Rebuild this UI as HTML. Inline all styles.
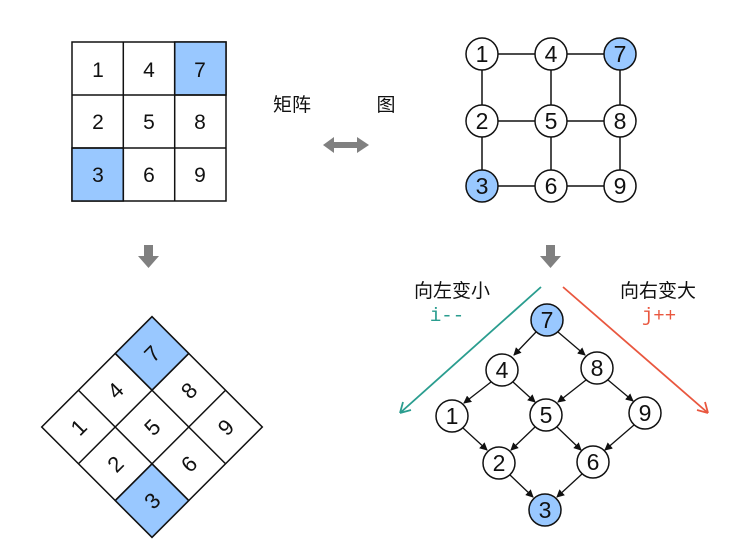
<!DOCTYPE html>
<html><head><meta charset="utf-8"><style>
body{margin:0;background:#fff}
svg text{font-family:"Liberation Sans","Noto Sans CJK SC",sans-serif;fill:#111}
</style></head><body>
<svg width="730" height="552" viewBox="0 0 730 552" xmlns="http://www.w3.org/2000/svg">
<defs>
<marker id="ab" markerWidth="8" markerHeight="8" refX="7" refY="4" orient="auto" markerUnits="userSpaceOnUse"><path d="M0,0 L8,4 L0,8 z" fill="#111"/></marker>
</defs>
<g stroke="#111" stroke-width="1.5">
<rect x="72" y="42" width="154" height="159" fill="#fff"/>
<rect x="174.7" y="42" width="51.3" height="53" fill="#99c8ff"/>
<rect x="72" y="148" width="51.3" height="53" fill="#99c8ff"/>
<line x1="123.3" y1="42" x2="123.3" y2="201"/><line x1="174.7" y1="42" x2="174.7" y2="201"/>
<line x1="72" y1="95" x2="226" y2="95"/><line x1="72" y1="148" x2="226" y2="148"/>
</g>
<g font-size="21" text-anchor="middle">
<text x="98" y="77">1</text><text x="149" y="77">4</text><text x="200" y="77">7</text>
<text x="98" y="129">2</text><text x="149" y="129">5</text><text x="200" y="129">8</text>
<text x="98" y="182">3</text><text x="149" y="182">6</text><text x="200" y="182">9</text>
</g>
<text x="292" y="111" font-size="19" text-anchor="middle">矩阵</text>
<text x="386" y="111" font-size="19" text-anchor="middle">图</text>
<path d="M323,145 L334,137 L334,142 L357,142 L357,137 L369,145 L357,153 L357,148 L334,148 L334,153 Z" fill="#808080"/>
<path d="M144,245 L153,245 L153,256 L159,256 L148.5,268 L138,256 L144,256 Z" fill="#808080"/>
<path d="M546,245 L555,245 L555,256 L561,256 L550.5,268 L540,256 L546,256 Z" fill="#808080"/>
<g stroke="#111" stroke-width="1.5">
<line x1="482" y1="54" x2="620" y2="54"/><line x1="482" y1="121" x2="620" y2="121"/><line x1="482" y1="186" x2="620" y2="186"/>
<line x1="482" y1="54" x2="482" y2="186"/><line x1="551" y1="54" x2="551" y2="186"/><line x1="620" y1="54" x2="620" y2="186"/>
</g>
<g stroke="#111" stroke-width="1.5" fill="#fff">
<circle cx="482" cy="54" r="16"/><circle cx="551" cy="54" r="16"/><circle cx="620" cy="54" r="16" fill="#99c8ff"/>
<circle cx="482" cy="121" r="16"/><circle cx="551" cy="121" r="16"/><circle cx="620" cy="121" r="16"/>
<circle cx="482" cy="186" r="16" fill="#99c8ff"/><circle cx="551" cy="186" r="16"/><circle cx="620" cy="186" r="16"/>
</g>
<g font-size="23" text-anchor="middle">
<text x="482" y="62">1</text><text x="551" y="62">4</text><text x="620" y="62">7</text>
<text x="482" y="129">2</text><text x="551" y="129">5</text><text x="620" y="129">8</text>
<text x="482" y="194">3</text><text x="551" y="194">6</text><text x="620" y="194">9</text>
</g>
<g transform="translate(152,427) rotate(-45)">
<g stroke="#111" stroke-width="1.5">
<rect x="-78" y="-78" width="156" height="156" fill="#fff"/>
<rect x="26" y="-78" width="52" height="52" fill="#99c8ff"/>
<rect x="-78" y="26" width="52" height="52" fill="#99c8ff"/>
<line x1="-26" y1="-78" x2="-26" y2="78"/><line x1="26" y1="-78" x2="26" y2="78"/>
<line x1="-78" y1="-26" x2="78" y2="-26"/><line x1="-78" y1="26" x2="78" y2="26"/>
</g>
<g font-size="22" text-anchor="middle">
<text x="-52" y="-44">1</text><text x="0" y="-44">4</text><text x="52" y="-44">7</text>
<text x="-52" y="8">2</text><text x="0" y="8">5</text><text x="52" y="8">8</text>
<text x="-52" y="60">3</text><text x="0" y="60">6</text><text x="52" y="60">9</text>
</g>
</g>
<g fill="none" stroke-width="1.8">
<line x1="541" y1="287" x2="400" y2="413" stroke="#2a9d8f"/>
<path d="M400,413 L403,402 M400,413 L411,410" stroke="#2a9d8f"/>
<line x1="563" y1="287" x2="708" y2="413" stroke="#e9573f"/>
<path d="M708,413 L705,402 M708,413 L697,410" stroke="#e9573f"/>
</g>
<text x="452" y="297" font-size="19" text-anchor="middle">向左变小</text>
<text x="447" y="321" font-size="19" text-anchor="middle" style="fill:#2a9d8f;font-family:'Liberation Mono',monospace">i--</text>
<text x="658" y="297" font-size="19" text-anchor="middle">向右变大</text>
<text x="659" y="321" font-size="19" text-anchor="middle" style="fill:#e9573f;font-family:'Liberation Mono',monospace">j++</text>
<g stroke="#111" stroke-width="1.3" marker-end="url(#ab)">
<line x1="536" y1="332" x2="514" y2="355"/>
<line x1="558" y1="332" x2="585" y2="355"/>
<line x1="491" y1="382" x2="464" y2="403"/>
<line x1="513" y1="382" x2="535" y2="402"/>
<line x1="586" y1="380" x2="558" y2="402"/>
<line x1="608" y1="380" x2="633" y2="401"/>
<line x1="463" y1="428" x2="487" y2="450"/>
<line x1="535" y1="427" x2="511" y2="450"/>
<line x1="557" y1="427" x2="581" y2="450"/>
<line x1="634" y1="425" x2="605" y2="450"/>
<line x1="510" y1="475" x2="533" y2="497"/>
<line x1="582" y1="474" x2="557" y2="497"/>
</g>
<g stroke="#111" stroke-width="1.5" fill="#fff">
<circle cx="547" cy="320" r="16" fill="#99c8ff"/>
<circle cx="502" cy="370" r="16"/><circle cx="597" cy="368" r="16"/>
<circle cx="452" cy="416" r="16"/><circle cx="546" cy="415" r="16"/><circle cx="645" cy="413" r="16"/>
<circle cx="499" cy="463" r="16"/><circle cx="593" cy="462" r="16"/>
<circle cx="545" cy="510" r="16" fill="#99c8ff"/>
</g>
<g font-size="23" text-anchor="middle">
<text x="547" y="328">7</text><text x="502" y="378">4</text><text x="597" y="376">8</text>
<text x="452" y="424">1</text><text x="546" y="423">5</text><text x="645" y="421">9</text>
<text x="499" y="471">2</text><text x="593" y="470">6</text><text x="545" y="518">3</text>
</g>
</svg>
</body></html>
